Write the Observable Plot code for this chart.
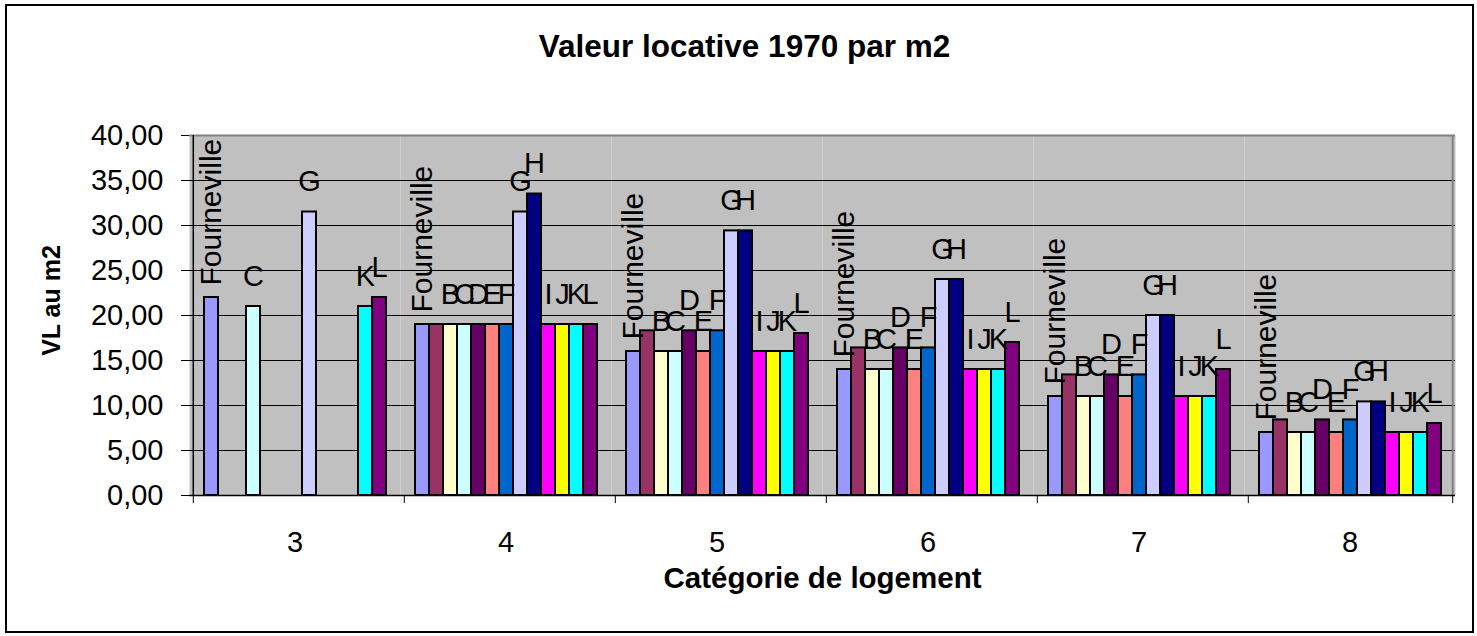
<!DOCTYPE html>
<html>
<head>
<meta charset="utf-8">
<script src="https://cdn.jsdelivr.net/npm/d3@7"></script>
<script src="https://cdn.jsdelivr.net/npm/@observablehq/plot@0.6"></script>
<style>
  body { margin: 0; background: #fff; }
  #wrap { position: relative; width: 1477px; height: 636px; }
  #border { position: absolute; left: 5px; top: 4px; width: 1469px; height: 629px;
            border: 2px solid #000; box-sizing: border-box; pointer-events: none; }
</style>
</head>
<body>
<div id="wrap"><div id="border"></div></div>
<script>
// ---- data ----
const categories = [3, 4, 5, 6, 7, 8];
const series = ["Fourneville", "A", "B", "C", "D", "E", "F", "G", "H", "I", "J", "K", "L"];
const labels = ["Fourneville", "", "B", "C", "D", "E", "F", "G", "H", "I", "J", "K", "L"];
const colors = ["#9999FF", "#993366", "#FFFFCC", "#CCFFFF", "#660066", "#FF8080", "#0066CC",
                "#CCCCFF", "#000080", "#FF00FF", "#FFFF00", "#00FFFF", "#800080"];
const cat3 = [22, null, null, 21, null, null, null, 31.5, null, null, null, 21, 22];
const cat4 = [19, 19, 19, 19, 19, 19, 19, 31.5, 33.5, 19, 19, 19, 19];
const cat5 = [16, 18.3, 16, 16, 18.3, 16, 18.3, 29.4, 29.4, 16, 16, 16, 18];
const cat6 = [14, 16.4, 14, 14, 16.4, 14, 16.4, 24, 24, 14, 14, 14, 17];
const cat7 = [11, 13.4, 11, 11, 13.4, 11, 13.4, 20, 20, 11, 11, 11, 14];
const cat8 = [7, 8.4, 7, 7, 8.4, 7, 8.4, 10.4, 10.4, 7, 7, 7, 8];
const yTicks = [0, 5, 10, 15, 20, 25, 30, 35, 40];
const gridValues = [5, 10, 15, 20, 25, 30, 35];
const title = "Valeur locative 1970 par m2";
const xTitle = "Catégorie de logement";
const yTitle = "VL au m2";

// ---- table ----
const valuesByCat = [cat3, cat4, cat5, cat6, cat7, cat8];
const rows = categories.flatMap((c, ci) =>
  valuesByCat[ci].map((v, si) => ({cat: c, series: series[si], value: v, label: labels[si]}))
).filter(d => d.value != null);
const rotatedLabels = rows.filter(d => d.series === series[0]);
const flatLabels = rows.filter(d => d.series !== series[0] && d.label !== "");

// ---- layout ----
const W = 1477, H = 636;
const mL = 188, mR = 21, mT = 135, mB = 141;
const padOuter = 0.75;
const facetW = (W - mL - mR) / categories.length;
const step = facetW / (series.length + 2 * padOuter);
const edge = step * (padOuter + 0.5);
const font = "'Liberation Sans', Arial, Helvetica, sans-serif";
const first = categories[0], last = categories[categories.length - 1];

const chart = Plot.plot({
  width: W, height: H,
  marginLeft: mL, marginRight: mR, marginTop: mT, marginBottom: mB,
  style: {fontFamily: font, fontSize: "29px", color: "#000", background: "#fff"},
  fx: {domain: categories, padding: 0, axis: "bottom", tickSize: 0, tickPadding: 36, label: null},
  x: {domain: series, paddingInner: 0, paddingOuter: padOuter, axis: null},
  y: {domain: [0, 40], ticks: yTicks, tickSize: 8, tickPadding: 18, label: null,
      tickFormat: d => d3.format(".2f")(d).replace(".", ",")},
  color: {domain: series, range: colors},
  marks: [
    Plot.frame({fill: "#C0C0C0", stroke: "none"}),
    Plot.ruleY(gridValues, {stroke: "#000", strokeWidth: 1}),
    Plot.ruleY([40], {stroke: "#808080", strokeWidth: 2}),
    Plot.ruleX([last], {fx: d => d, x: () => series[series.length - 1], y1: 0, y2: 40, dx: edge, stroke: "#808080", strokeWidth: 2}),
    Plot.barY(rows, {fx: "cat", x: "series", y: "value", fill: "series", stroke: "#000", strokeWidth: 2}),
    Plot.ruleY([0], {stroke: "#000", strokeWidth: 1.5}),
    Plot.ruleX([first], {fx: d => d, x: () => series[0], y1: 0, y2: 40, dx: -edge, stroke: "#000", strokeWidth: 1.5}),
    Plot.ruleX(categories, {fx: d => d, x: () => series[0], y1: -0.9, y2: 0, dx: -edge, stroke: "#000", strokeWidth: 1}),
    Plot.ruleX([last], {fx: d => d, x: () => series[series.length - 1], y1: -0.9, y2: 0, dx: edge, stroke: "#000", strokeWidth: 1}),
    Plot.text(rotatedLabels, {fx: "cat", x: "series", y: "value", text: "label", rotate: -90,
      textAnchor: "start", dy: -12, fontSize: 30, fill: "#000"}),
    Plot.text(flatLabels, {fx: "cat", x: "series", y: "value", text: "label",
      lineAnchor: "bottom", dy: -21, fontSize: 29, fill: "#000"}),
    Plot.text([title], {fx: [first], frameAnchor: "top-left", text: d => d, dx: 743 - mL, dy: 56 - mT,
      lineAnchor: "bottom", textAnchor: "middle", fontSize: 31.5, fontWeight: "bold", fill: "#000"}),
    Plot.text([xTitle], {fx: [categories[3]], frameAnchor: "bottom-left", text: d => d, dy: 92,
      lineAnchor: "bottom", textAnchor: "middle", fontSize: 29.5, fontWeight: "bold", fill: "#000"}),
    Plot.text([yTitle], {fx: [first], frameAnchor: "left", text: d => d, dx: -138, dy: -15, rotate: -90,
      textAnchor: "middle", fontSize: 25, fontWeight: "bold", fill: "#000"})
  ]
});
document.getElementById("wrap").prepend(chart);
</script>
</body>
</html>
